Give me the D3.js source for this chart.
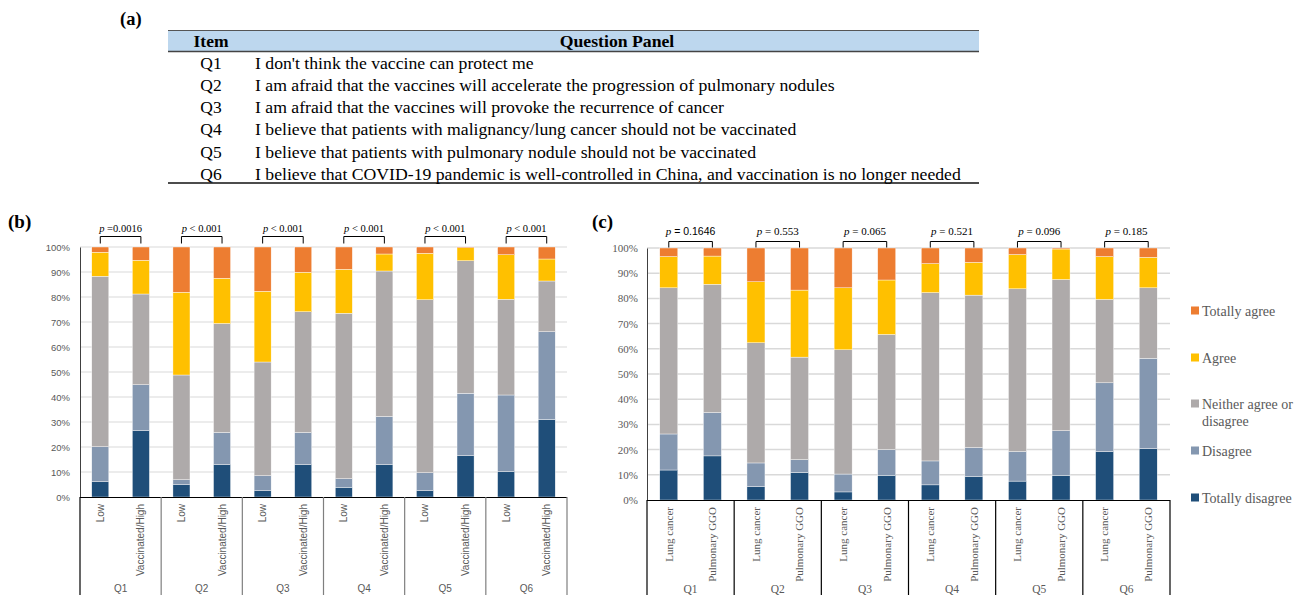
<!DOCTYPE html>
<html><head><meta charset="utf-8">
<script src="https://cdn.jsdelivr.net/npm/d3@7"></script>
<style>body{margin:0;background:#fff}svg{display:block}
.serif{font-family:"Liberation Serif","Times New Roman",Times,serif}
.sans{font-family:"Liberation Sans",Arial,Helvetica,sans-serif}
</style>
</head><body>
<script>
// ---------- data ----------
const items = ["Q1","Q2","Q3","Q4","Q5","Q6"];
const questions = [
  "I don't think the vaccine can protect me",
  "I am afraid that the vaccines will accelerate the progression of pulmonary nodules",
  "I am afraid that the vaccines will provoke the recurrence of cancer",
  "I believe that patients with malignancy/lung cancer should not be vaccinated",
  "I believe that patients with pulmonary nodule should not be vaccinated",
  "I believe that COVID-19 pandemic is well-controlled in China, and vaccination is no longer needed"
];
const levels = ["Totally disagree","Disagree","Neither agree or disagree","Agree","Totally agree"];
const legendLabels = [["Totally agree"],["Agree"],["Neither agree or","disagree"],["Disagree"],["Totally disagree"]];
const levelColors = ["#1F4E79","#8497B0","#AEAAAA","#FFC000","#ED7D31"];
const yTicks = [0,10,20,30,40,50,60,70,80,90,100];

// panel (b): order Q1 Low, Q1 High, Q2 Low, ...
const bGroups = ["Low","Vaccinated/High"];
const bTotallyDisagree = [6.1,26.5,4.9,12.9,2.5,12.9,3.9,12.9,2.5,16.5,10.1,31.0];
const bDisagree        = [14.0,18.4,2.0,12.9,6.0,12.9,3.4,19.3,7.2,25.0,30.7,35.1];
const bNeither         = [68.2,36.3,41.9,43.6,45.5,48.3,66.2,58.2,69.2,53.0,38.3,20.3];
const bAgree           = [9.6,13.5,33.1,18.1,28.3,15.8,17.6,6.8,18.6,5.2,17.8,8.8];
const bTotallyAgree    = [2.1,5.3,18.1,12.5,17.7,10.1,8.9,2.8,2.5,0.3,3.1,4.8];
const bPvalues = ["=0.0016","< 0.001","< 0.001","< 0.001","< 0.001","< 0.001"];

// panel (c): order Q1 Lung cancer, Q1 Pulmonary GGO, ...
const cGroups = ["Lung cancer","Pulmonary GGO"];
const cTotallyDisagree = [11.9,17.5,5.3,10.9,3.2,9.8,6.0,9.3,7.5,9.8,19.2,20.4];
const cDisagree        = [14.3,17.2,9.4,5.1,7.1,10.2,9.5,11.5,11.7,17.7,27.3,35.8];
const cNeither         = [58.0,50.9,47.7,40.7,49.3,45.7,66.8,60.5,64.6,60.0,33.1,28.0];
const cAgree           = [12.4,11.2,24.2,26.6,24.6,21.6,11.5,13.0,13.6,12.1,17.0,12.1];
const cTotallyAgree    = [3.4,3.2,13.4,16.7,15.8,12.7,6.2,5.7,2.6,0.4,3.4,3.7];
const cPvalues = ["= 0.1646","= 0.553","= 0.065","= 0.521","= 0.096","= 0.185"];

// ---------- drawing ----------
const W = 1305, H = 595;
const svg = d3.select("body").append("svg").attr("width", W).attr("height", H);
const GRAY = "#595959";

// ---- (a) table ----
svg.append("text").attr("class","serif").attr("x",120).attr("y",25).attr("font-weight","bold")
  .attr("font-size",18.5).text("(a)");
const tx0 = 168, tx1 = 979;
svg.append("rect").attr("x",tx0).attr("y",30).attr("width",tx1-tx0).attr("height",21).attr("fill","#BDD7EE");
svg.append("line").attr("x1",tx0).attr("x2",tx1).attr("y1",30.5).attr("y2",30.5).attr("stroke","#555").attr("stroke-width",1);
svg.append("line").attr("x1",tx0).attr("x2",tx1).attr("y1",51.5).attr("y2",51.5).attr("stroke","#444").attr("stroke-width",1.6);
svg.append("line").attr("x1",tx0).attr("x2",tx1).attr("y1",183).attr("y2",183).attr("stroke","#111").attr("stroke-width",1.6);
svg.append("text").attr("class","serif").attr("x",211).attr("y",47).attr("text-anchor","middle")
  .attr("font-weight","bold").attr("font-size",17.5).text("Item");
svg.append("text").attr("class","serif").attr("x",617).attr("y",47).attr("text-anchor","middle")
  .attr("font-weight","bold").attr("font-size",17.7).text("Question Panel");
const rowY = d3.scalePoint().domain(items).range([68.5, 180]);
items.forEach((q,i)=>{
  svg.append("text").attr("class","serif").attr("x",211).attr("y",rowY(q)).attr("text-anchor","middle")
    .attr("font-size",17.5).text(q);
  svg.append("text").attr("class","serif").attr("x",255).attr("y",rowY(q)).attr("font-size",17.7).text(questions[i]);
});

// ---- panel helper ----
function drawPanel(cfg){
  const keys = [];
  items.forEach(q => cfg.groups.forEach(g => keys.push(q+"|"+g)));
  const series = cfg.values;
  const rows = keys.map((k,i)=>{
    const o = {key:k};
    levels.forEach((l,j)=> o[l] = series[j][i]);
    return o;
  });
  const stack = d3.stack().keys(levels)(rows);
  const x = d3.scaleBand().domain(keys).range([cfg.x0,cfg.x1]).paddingInner(cfg.pad).paddingOuter(cfg.pad/2);
  const y = d3.scaleLinear().domain([0,100]).range([cfg.y0,cfg.y1]);
  const g = svg.append("g");

  g.append("text").attr("class","serif").attr("x",cfg.labelX).attr("y",228).attr("font-weight","bold")
    .attr("font-size",19).text(cfg.label);

  g.selectAll(".grid").data(yTicks.filter(t=>t>0)).join("line")
    .attr("x1",cfg.x0).attr("x2",cfg.x1).attr("y1",d=>y(d)).attr("y2",d=>y(d))
    .attr("stroke","#D9D9D9").attr("stroke-width",cfg.gridW);

  const ya = g.append("g").attr("transform",`translate(${cfg.x0},0)`)
    .call(d3.axisLeft(y).tickValues(yTicks).tickFormat(d=>d+"%").tickSize(0).tickPadding(cfg.tickPad));
  ya.attr("font-family",null);
  ya.select(".domain").attr("stroke","#404040");
  ya.selectAll("text").attr("class",cfg.font).attr("font-size",cfg.yFont).attr("fill",GRAY);

  g.selectAll(".layer").data(stack).join("g").attr("fill",(d,i)=>levelColors[i])
    .selectAll("rect").data(d=>d).join("rect")
    .attr("x",d=>x(d.data.key)).attr("width",x.bandwidth())
    .attr("y",d=>y(d[1])).attr("height",d=>y(d[0])-y(d[1]))
    .attr("stroke","#fff").attr("stroke-width",0.4);

  g.append("line").attr("x1",cfg.x0).attr("x2",cfg.x1).attr("y1",cfg.y0+0.5).attr("y2",cfg.y0+0.5)
    .attr("stroke","#000").attr("stroke-width",1.2);
  const groupEdges = [];
  items.forEach((q,i)=> groupEdges.push(x(q+"|"+cfg.groups[0]) - x.step()*cfg.pad/2));
  groupEdges.push(cfg.x1);
  g.selectAll(".sep").data(groupEdges).join("line")
    .attr("x1",d=>d).attr("x2",d=>d).attr("y1",cfg.y0).attr("y2",H)
    .attr("stroke",(d,i)=> i===0 ? "#000" : cfg.sepColor).attr("stroke-width",1.2);

  keys.forEach(k=>{
    const cx = x(k)+x.bandwidth()/2 + cfg.fontRot*0.35;
    g.append("text").attr("class",cfg.font).attr("transform",`translate(${cx},${cfg.y0+7}) rotate(-90)`)
      .attr("text-anchor","end").attr("font-size",cfg.fontRot)
      .attr("fill",GRAY).text(k.split("|")[1]);
  });
  items.forEach((q,i)=>{
    const cx = (groupEdges[i]+groupEdges[i+1])/2;
    g.append("text").attr("class",cfg.font).attr("x",cx).attr("y",cfg.qY).attr("text-anchor","middle")
      .attr("font-size",cfg.qFont).attr("fill",GRAY).text(q);
  });

  items.forEach((q,i)=>{
    const xa = x(q+"|"+cfg.groups[0])+x.bandwidth()/2, xb = x(q+"|"+cfg.groups[1])+x.bandwidth()/2;
    g.append("path").attr("d",`M${xa},${cfg.brTick}V${cfg.brY}H${xb}V${cfg.brTick}`)
      .attr("fill","none").attr("stroke","#000").attr("stroke-width",1);
    const t = g.append("text").attr("class","serif").attr("x",(xa+xb)/2).attr("y",cfg.pY).attr("text-anchor","middle")
      .attr("font-size",cfg.pFont).attr("fill","#000");
    t.append("tspan").attr("font-style","italic").text("p");
    const sp = t.append("tspan").text(" "+cfg.pvalues[i]);
    if (cfg.pSansFirst && i===0) sp.attr("class","sans").attr("font-size",cfg.pFont-0.5);
  });
}

drawPanel({
  label:"(b)", labelX:8, groups:bGroups,
  values:[bTotallyDisagree,bDisagree,bNeither,bAgree,bTotallyAgree],
  pvalues:bPvalues, x0:80, x1:567, y0:497, y1:247, pad:0.58, gridW:1,
  font:"sans", yFont:9.5, tickPad:10, fontRot:10, qFont:10, qY:592, sepColor:"#7F7F7F",
  brY:236.5, brTick:243.5, pY:232, pFont:10.5, pSansFirst:false
});
drawPanel({
  label:"(c)", labelX:592, groups:cGroups,
  values:[cTotallyDisagree,cDisagree,cNeither,cAgree,cTotallyAgree],
  pvalues:cPvalues, x0:647, x1:1170, y0:500, y1:248, pad:0.587, gridW:1.5,
  font:"serif", yFont:11, tickPad:9, fontRot:11, qFont:11.5, qY:593, sepColor:"#000",
  brY:241.5, brTick:247.5, pY:235, pFont:11, pSansFirst:true
});

const legY = [311, 358, 404, 451, 498];
legendLabels.forEach((lab,i)=>{
  const ci = levels.length-1-i;
  svg.append("rect").attr("x",1191).attr("y",legY[i]-4.5).attr("width",8).attr("height",8).attr("fill",levelColors[ci]);
  const t = svg.append("text").attr("class","serif").attr("x",1202).attr("y",legY[i]+4.5)
    .attr("font-size",14).attr("fill",GRAY);
  lab.forEach((s,j)=> t.append("tspan").attr("x",1202).attr("dy", j===0?0:17.5).text(s));
});
</script>
</body></html>
